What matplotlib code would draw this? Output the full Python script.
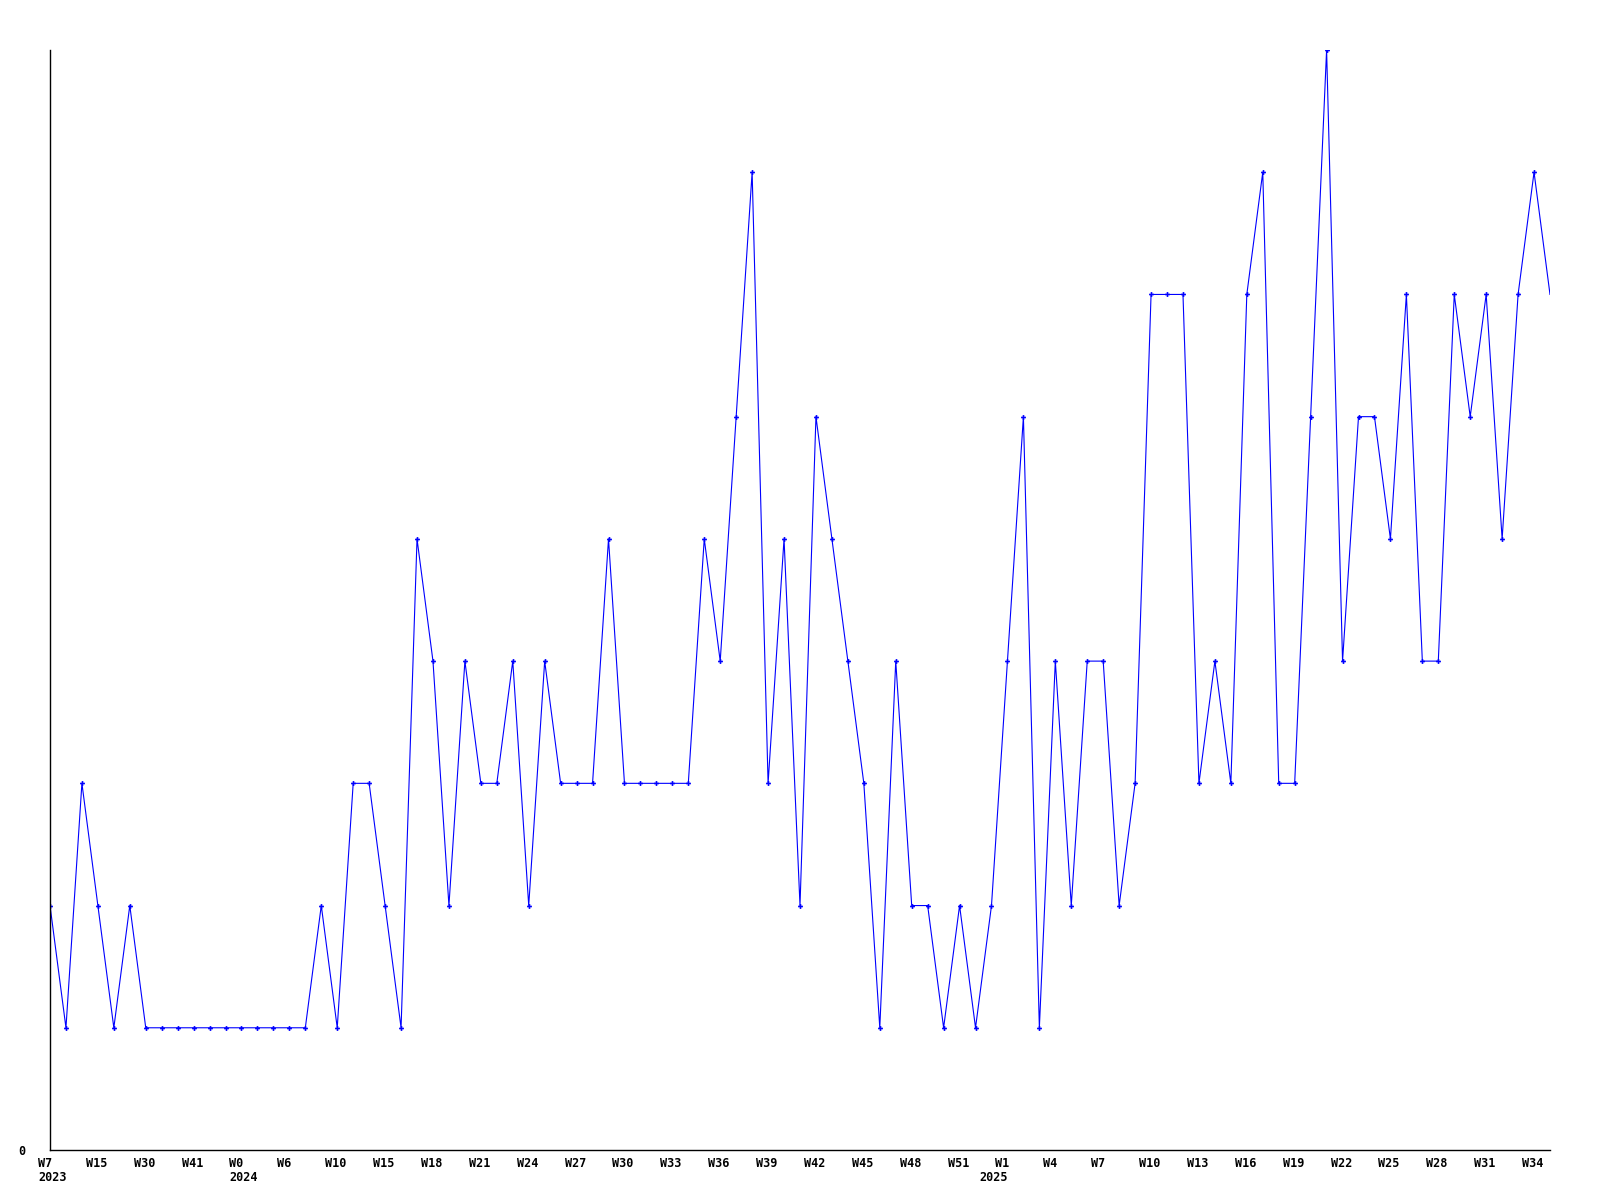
import matplotlib
matplotlib.use('Agg')
import matplotlib.pyplot as plt
import matplotlib.transforms as mtransforms
import numpy as np

# weekly counts, one value per week
values = [2, 1, 3, 2, 1, 2, 1, 1, 1, 1, 1, 1, 1, 1, 1, 1, 1, 2, 1, 3,
          3, 2, 1, 5, 4, 2, 4, 3, 3, 4, 2, 4, 3, 3, 3, 5, 3, 3, 3, 3,
          3, 5, 4, 6, 8, 3, 5, 2, 6, 5, 4, 3, 1, 4, 2, 2, 1, 2, 1, 2,
          4, 6, 1, 4, 2, 4, 4, 2, 3, 7, 7, 7, 3, 4, 3, 7, 8, 3, 3, 6,
          9, 4, 6, 6, 5, 7, 4, 4, 7, 6, 7, 5, 7, 8, 7]

# one week label every third point
week_labels = ['W7', 'W15', 'W30', 'W41', 'W0', 'W6', 'W10', 'W15', 'W18', 'W21',
               'W24', 'W27', 'W30', 'W33', 'W36', 'W39', 'W42', 'W45', 'W48', 'W51',
               'W1', 'W4', 'W7', 'W10', 'W13', 'W16', 'W19', 'W22', 'W25', 'W28',
               'W31', 'W34']
# year labels keyed by point index
year_labels = {0: '2023', 12: '2024', 59: '2025'}

fig = plt.figure(figsize=(16, 12), dpi=100)
ax = fig.add_axes([50 / 1600, 50 / 1200, 1500 / 1600, 1100 / 1200])

x = np.arange(len(values))
# the last point has no marker in the original
ax.plot(x, values, color='#0000ff', linewidth=0.8, marker='P', markersize=3.5,
        markeredgewidth=0, markerfacecolor='#0000ff',
        markevery=list(range(len(values) - 1)))

ax.set_xlim(0, len(values) - 1)
ax.set_ylim(0, max(values))

for side in ['top', 'right']:
    ax.spines[side].set_visible(False)
for side in ['left', 'bottom']:
    ax.spines[side].set_linewidth(1.0)
    ax.spines[side].set_color('black')

font = dict(fontfamily='DejaVu Sans Mono', fontweight='bold', fontsize=8.5)

ax.set_xticks([])
ax.set_yticks([0])
ax.set_yticklabels(['0'], **font)
ax.tick_params(axis='y', length=0, pad=18)

base = mtransforms.blended_transform_factory(ax.transData, ax.transAxes)
week_trans = base + mtransforms.ScaledTranslation(-12 / 100, -17 / 100, fig.dpi_scale_trans)
year_trans = base + mtransforms.ScaledTranslation(-12 / 100, -31 / 100, fig.dpi_scale_trans)
for k, lab in enumerate(week_labels):
    ax.text(k * 3, 0, lab, transform=week_trans, ha='left', va='baseline', **font)
for idx, yr in year_labels.items():
    ax.text(idx, 0, yr, transform=year_trans, ha='left', va='baseline', **font)

fig.savefig('out.png', dpi=100, facecolor='white')
